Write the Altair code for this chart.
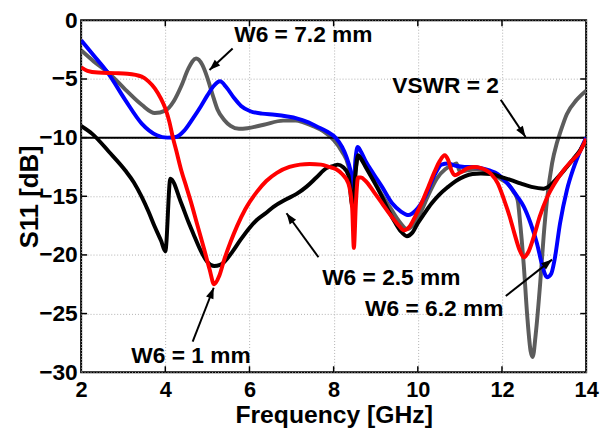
import math
import altair as alt
import pandas as pd

# ---------------- data ----------------
gray_f = [2.0, 2.3, 2.66, 3.05, 3.44, 3.75, 4.0, 4.2, 4.38, 4.55, 4.73, 4.88, 5.0, 5.12, 5.24, 5.4, 5.55, 5.75,
          5.95, 6.34, 6.8, 7.1, 7.28, 7.5, 7.75, 8.0, 8.2, 8.35, 8.42, 8.47, 8.53, 8.6, 8.76, 8.95, 9.15, 9.35,
          9.55, 9.75, 9.9, 10.05, 10.25, 10.45, 10.65, 10.8, 10.92, 11.0, 11.15, 11.4, 11.6, 11.8, 12.0, 12.13,
          12.27, 12.37, 12.44, 12.52, 12.6, 12.68, 12.73, 12.8, 12.91, 12.99, 13.07, 13.19, 13.3, 13.38, 13.54,
          13.77, 14.0]
gray_db = [-2.55, -3.5, -4.5, -5.9, -7.2, -7.9, -7.7, -6.9, -5.6, -4.1, -3.26, -3.8, -4.9, -6.3, -7.6, -8.5, -9.0,
           -9.25, -9.2, -8.9, -8.55, -8.55, -8.7, -9.0, -9.45, -10.2, -11.2, -12.4, -13.8, -15.2, -12.5, -11.6,
           -12.4, -13.6, -14.9, -16.0, -17.1, -17.8, -17.4, -16.5, -14.9, -13.5, -12.7, -12.4, -12.2, -12.9,
           -12.8, -12.7, -12.8, -13.1, -13.6, -13.9, -14.6, -15.3, -17.6, -21.0, -25.2, -28.2, -28.7, -26.8,
           -22.3, -18.4, -15.3, -12.2, -10.5, -9.6, -8.0, -6.8, -6.0]

blue_f = [2.0, 2.3, 2.66, 3.05, 3.44, 3.8, 4.05, 4.25, 4.45, 4.65, 4.85, 5.0, 5.15, 5.3, 5.45, 5.63, 5.8, 6.02,
          6.3, 6.6, 6.9, 7.12, 7.4, 7.6, 7.85, 8.06, 8.2, 8.3, 8.4, 8.47, 8.52, 8.57, 8.65, 8.76, 8.95, 9.15,
          9.39, 9.6, 9.78, 9.95, 10.17, 10.41, 10.56, 10.72, 10.9, 11.11, 11.3, 11.5, 11.7, 11.9, 12.05, 12.2,
          12.36, 12.52, 12.68, 12.83, 12.95, 13.07, 13.17, 13.25, 13.38, 13.54, 13.7, 13.85, 14.0]
blue_db = [-1.7, -3.0, -4.6, -6.8, -8.8, -9.8, -10.0, -9.95, -9.4, -8.4, -7.3, -6.4, -5.6, -5.2, -5.7, -6.6, -7.3,
           -7.75, -7.95, -8.05, -8.2, -8.35, -8.7, -9.05, -9.5, -10.05, -10.8, -11.6, -12.8, -14.2, -11.8, -10.8,
           -11.2, -12.0, -13.1, -14.2, -15.6, -16.3, -16.6, -16.2, -15.05, -13.1, -12.3, -12.2, -12.4, -12.5,
           -12.5, -12.6, -12.8, -13.1, -13.6, -14.2, -15.0, -15.9, -17.3, -19.0, -20.8, -21.9, -21.6, -20.4,
           -17.3, -14.5, -12.6, -11.2, -10.0]

black_f = [2.0, 2.27, 2.66, 3.05, 3.25, 3.44, 3.6, 3.75, 3.9, 4.0, 4.12, 4.38, 4.55, 4.69, 4.85, 5.0, 5.16, 5.3,
           5.4, 5.6, 5.79, 6.0, 6.18, 6.4, 6.57, 6.85, 7.12, 7.35, 7.59, 7.83, 8.0, 8.1, 8.22, 8.35, 8.45, 8.52,
           8.58, 8.65, 8.76, 8.95, 9.15, 9.3, 9.47, 9.6, 9.74, 9.87, 10.0, 10.15, 10.33, 10.5, 10.72, 10.9,
           11.11, 11.3, 11.5, 11.74, 11.97, 12.2, 12.44, 12.7, 12.99, 13.1, 13.3, 13.54, 13.7, 13.85, 14.0]
black_db = [-9.0, -9.7, -11.2, -12.8, -13.8, -15.05, -16.3, -17.6, -18.8, -19.7, -13.5, -15.6, -17.2, -18.4,
            -19.7, -20.6, -20.95, -20.85, -20.6, -19.7, -18.7, -17.7, -17.0, -16.4, -15.9, -15.3, -14.8, -14.2,
            -13.4, -12.6, -12.4, -12.3, -12.5, -13.2, -15.9, -13.0, -11.5, -11.8, -12.5, -13.7, -15.05, -16.2,
            -17.3, -18.0, -18.4, -18.1, -17.3, -16.5, -15.6, -14.9, -14.2, -13.7, -13.3, -13.1, -13.05, -13.1,
            -13.35, -13.6, -13.9, -14.2, -14.35, -14.2, -13.5, -12.5, -11.8, -11.1, -10.2]

red_f = [2.0, 2.15, 2.4, 2.8, 3.1, 3.44, 3.6, 3.75, 3.9, 4.0, 4.1, 4.18, 4.26, 4.38, 4.5, 4.61, 4.75, 4.93, 5.05,
         5.16, 5.28, 5.4, 5.55, 5.71, 5.9, 6.18, 6.4, 6.65, 6.95, 7.2, 7.43, 7.7, 7.9, 8.06, 8.2, 8.35, 8.44,
         8.48, 8.53, 8.58, 8.65, 8.76, 8.95, 9.15, 9.35, 9.55, 9.67, 9.8, 9.94, 10.1, 10.25, 10.4, 10.52, 10.64,
         10.72, 10.8, 10.88, 11.0, 11.19, 11.35, 11.5, 11.74, 11.9, 12.05, 12.18, 12.29, 12.42, 12.52, 12.62,
         12.76, 12.9, 13.07, 13.25, 13.46, 13.65, 13.85, 14.0]
red_db = [-4.0, -4.3, -4.45, -4.5, -4.55, -4.8, -5.2, -5.8, -6.7, -7.5, -8.7, -10.0, -11.1, -12.8, -14.2, -15.5,
          -17.3, -19.6, -21.2, -22.5, -21.8, -20.4, -18.9, -17.5, -16.1, -14.6, -13.7, -13.0, -12.5, -12.3,
          -12.25, -12.3, -12.5, -12.7, -13.1, -13.9, -16.0, -19.4, -15.5, -13.4, -13.4, -13.7, -14.6, -15.6,
          -16.6, -17.5, -17.9, -17.6, -16.7, -15.5, -14.2, -12.9, -12.0, -11.5, -11.9, -12.8, -13.2, -13.0,
          -12.6, -12.5, -12.6, -13.1, -13.9, -15.3, -16.7, -18.1, -19.6, -20.2, -19.8, -18.4, -16.7, -15.1,
          -13.9, -12.8, -12.0, -11.2, -10.1]

vswr_level = [-10]

ann_text = ["W6 = 7.2 mm", "VSWR = 2", "W6 = 2.5 mm", "W6 = 6.2 mm", "W6 = 1 mm"]
ann_x = [7.28, 10.66, 9.37, 10.39, 4.61]
ann_y = [-1.26, -5.62, -22.0, -24.6, -28.65]
arr_x1 = [5.6, 11.97, 7.64, 12.09, 4.65]
arr_y1 = [-2.4, -6.77, -20.2, -23.5, -27.4]
arr_x2 = [5.05, 12.56, 6.88, 13.19, 5.15]
arr_y2 = [-4.24, -9.94, -16.45, -20.4, -22.8]

x_ticks = [2, 4, 6, 8, 10, 12, 14]
y_ticks = [0, -5, -10, -15, -20, -25, -30]

# ---------------- chart ----------------
W, H = 511, 356
X0, X1, Y0, Y1 = 2, 14, -30, 0
FONT = "Liberation Sans"
xs = alt.Scale(domain=[X0, X1], nice=False, zero=False)
ys = alt.Scale(domain=[Y0, Y1], nice=False, zero=False)

x_axis = alt.Axis(values=x_ticks, title="Frequency [GHz]", labelFont=FONT, labelFontSize=22,
                  labelFontWeight="bold", labelColor="black", titleFont=FONT, titleFontSize=25,
                  titleFontWeight="bold", titleColor="black", ticks=False, domain=False, grid=True,
                  gridDash=[1, 2], gridColor="#b0b0b0", gridWidth=1, labelPadding=8,
                  titleY=51, titleBaseline="alphabetic", labelFlush=False)
y_axis = alt.Axis(values=y_ticks, title="S11 [dB]", labelFont=FONT, labelFontSize=23,
                  labelFontWeight="bold", labelColor="black", titleFont=FONT, titleFontSize=26,
                  titleFontWeight="bold", titleColor="black", ticks=False, domain=False, grid=True,
                  gridDash=[1, 2], gridColor="#b0b0b0", gridWidth=1, labelPadding=4,
                  titleX=-44, titleY=H / 2, titleBaseline="alphabetic", titleAlign="center",
                  titleAngle=270, labelFlush=False)


def X(field):
    return alt.X(field, scale=xs, axis=x_axis)


def Y(field):
    return alt.Y(field, scale=ys, axis=y_axis)


def curve(f, db, color):
    df = pd.DataFrame({"f": f, "s": db})
    return alt.Chart(df).mark_line(color=color, strokeWidth=4, interpolate="monotone",
                                   clip=True).encode(x=X("f:Q"), y=Y("s:Q"))


vswr = alt.Chart(pd.DataFrame({"s": vswr_level})).mark_rule(color="black", strokeWidth=2).encode(
    y=Y("s:Q"))

# inward tick marks on all four sides (length ~6 px expressed in data units)
TX = 6 * (X1 - X0) / W
TY = 6 * (Y1 - Y0) / H
inner_x = x_ticks[1:-1]
inner_y = y_ticks[1:-1]
tick_rows = []
for v in inner_x:
    tick_rows.append({"a": v, "b": Y0, "a2": v, "b2": Y0 + TY})
    tick_rows.append({"a": v, "b": Y1, "a2": v, "b2": Y1 - TY})
for v in inner_y:
    tick_rows.append({"a": X0, "b": v, "a2": X0 + TX, "b2": v})
    tick_rows.append({"a": X1, "b": v, "a2": X1 - TX, "b2": v})
ticks = alt.Chart(pd.DataFrame(tick_rows)).mark_rule(color="black", strokeWidth=1.5).encode(
    x=X("a:Q"), y=Y("b:Q"), x2="a2:Q", y2="b2:Q")

PX_X = W / (X1 - X0)
PX_Y = H / (Y1 - Y0)
angles = []
for a, b, c, d in zip(arr_x1, arr_y1, arr_x2, arr_y2):
    dx = (c - a) * PX_X
    dy = -(d - b) * PX_Y
    angles.append(math.degrees(math.atan2(dx, -dy)) % 360)

arr_df = pd.DataFrame({"x1": arr_x1, "y1": arr_y1, "x2": arr_x2, "y2": arr_y2, "ang": angles})
ann_df = pd.DataFrame({"t": ann_text, "x": ann_x, "y": ann_y})

shafts = alt.Chart(arr_df).mark_rule(color="black", strokeWidth=2).encode(
    x=X("x1:Q"), y=Y("y1:Q"), x2="x2:Q", y2="y2:Q")
heads = alt.Chart(arr_df).mark_point(shape="M0,0L0.4,1.1L-0.4,1.1Z", filled=True, color="black",
                                     opacity=1, size=400).encode(
    x=X("x2:Q"), y=Y("y2:Q"), angle=alt.Angle("ang:Q", scale=None))
labels = alt.Chart(ann_df).mark_text(font=FONT, fontSize=23, fontWeight="bold", color="black",
                                     align="center", baseline="middle").encode(
    x=X("x:Q"), y=Y("y:Q"), text="t:N")

chart = alt.layer(
    ticks,
    curve(gray_f, gray_db, "#5c5c5c"),
    vswr,
    curve(blue_f, blue_db, "#0000ff"),
    curve(black_f, black_db, "#000000"),
    curve(red_f, red_db, "#ff0000"),
    shafts, heads, labels,
).properties(
    width=W, height=H,
    autosize=alt.AutoSizeParams(type="none"),
    padding={"left": 74, "top": 10, "right": 14, "bottom": 58},
    background="white",
).configure_view(stroke="black", strokeWidth=2)

chart.save("out.html", embed_options={"renderer": "svg", "actions": False})
